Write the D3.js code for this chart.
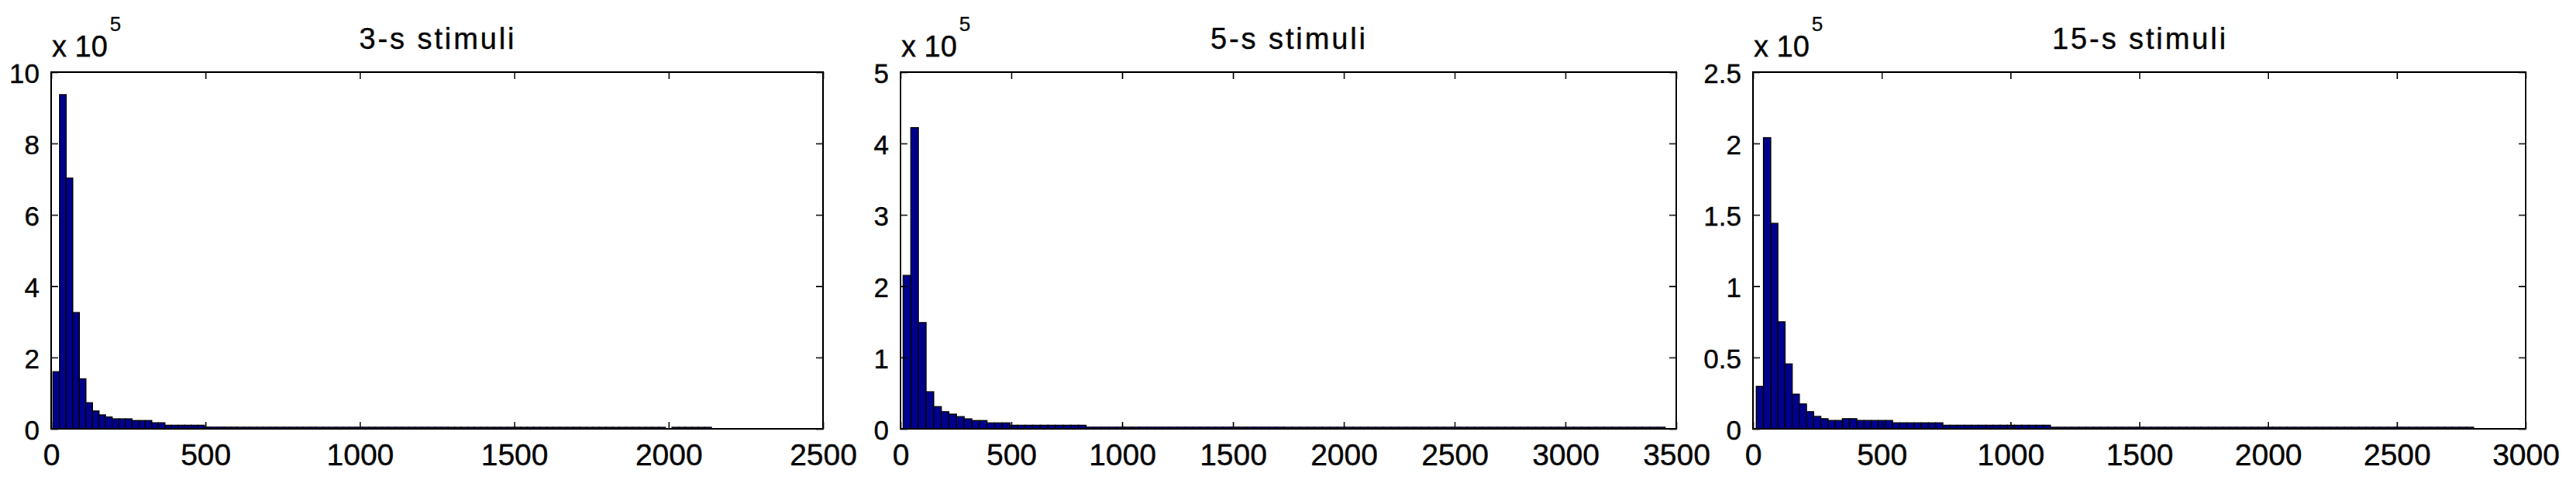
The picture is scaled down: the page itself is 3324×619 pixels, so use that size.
<!DOCTYPE html>
<html><head><meta charset="utf-8">
<script src="https://cdn.jsdelivr.net/npm/d3@7"></script>
<style>
body{margin:0;background:#fff}
svg{display:block;background:#fff}
text{font-family:"Liberation Sans",Arial,Helvetica,sans-serif;fill:#000}
</style>
</head><body>
<svg id="chart" width="3324" height="619"></svg>
<script>
// ---------- data ----------
const titles = ["3-s stimuli", "5-s stimuli", "15-s stimuli"];
const xMax = [2500, 3500, 3000];
const xTicks3s = [0, 500, 1000, 1500, 2000, 2500];
const xTicks5s = [0, 500, 1000, 1500, 2000, 2500, 3000, 3500];
const xTicks15s = [0, 500, 1000, 1500, 2000, 2500, 3000];
const yMax = [1e6, 5e5, 2.5e5];
const yTicks3s = [0, 2e5, 4e5, 6e5, 8e5, 10e5];
const yTicks5s = [0, 1e5, 2e5, 3e5, 4e5, 5e5];
const yTicks15s = [0, 0.5e5, 1e5, 1.5e5, 2e5, 2.5e5];
const yExponent = 5;
const binStart = [5.8, 12, 13];
const binWidth = [21.33, 34.38, 27.85];

const counts3s = [
  160000, 937000, 703000, 326000, 140000, 73000, 50000, 39000, 33000, 28000,
  28000, 28000, 23000, 23000, 23000, 17000, 17000, 10000, 10000, 10000,
  10000, 10000, 10000, 4800, 4700, 4700, 4600, 4600, 4500, 4500,
  4500, 4500, 4500, 4500, 4500, 4500, 4500, 4500, 4500, 4500,
  4400, 4400, 4400, 4400, 4400, 4400, 4400, 4400, 4400, 4400,
  4400, 4400, 4400, 4400, 4400, 4400, 4400, 4400, 4400, 4400,
  4300, 4300, 4300, 4300, 4300, 4300, 4300, 4300, 4300, 4300,
  4300, 4300, 4300, 4300, 4300, 4300, 4300, 4300, 4300, 4300,
  4200, 4200, 4200, 4200, 4200, 4200, 4200, 4200, 4200, 4200,
  4200, 4200, 4200, 0, 4200, 4200, 4200, 4200, 4200, 4200
];
const counts5s = [
  215000, 422000, 149000, 52000, 31000, 24000, 20500, 17000, 14000, 11500,
  11500, 8300, 8300, 8300, 5000, 5000, 5000, 5000, 5000, 5000,
  5000, 5000, 5000, 5000, 2300, 2300, 2300, 2300, 2300, 2300,
  2300, 2300, 2300, 2300, 2300, 2300, 2300, 2300, 2300, 2300,
  2300, 2300, 2300, 2300, 2300, 2300, 2300, 2300, 2300, 2300,
  2200, 2200, 2200, 2200, 2200, 2200, 2200, 2200, 2200, 2200,
  2200, 2200, 2200, 2200, 2200, 2200, 2200, 2200, 2200, 2200,
  2200, 2200, 2200, 2200, 2200, 2200, 2200, 2200, 2200, 2200,
  2200, 2200, 2200, 2200, 2200, 2200, 2200, 2200, 2200, 2200,
  2200, 2200, 2200, 2200, 2200, 2200, 2200, 2200, 2200, 2200
];
const counts15s = [
  29700, 204000, 144000, 75000, 45500, 24300, 17400, 12000, 8700, 7100,
  5800, 5800, 7100, 7100, 5800, 5800, 5800, 5800, 5800, 4200,
  4200, 4200, 4200, 4200, 4200, 4200, 2500, 2500, 2500, 2500,
  2500, 2500, 2500, 2500, 2500, 2500, 2500, 2500, 2500, 2500,
  2500, 1100, 1100, 1100, 1100, 1100, 1100, 1100, 1100, 1100,
  1100, 1100, 1100, 1100, 1100, 1100, 1100, 1100, 1100, 1100,
  1100, 1100, 1100, 1100, 1100, 1100, 1100, 1100, 1100, 1100,
  1100, 1100, 1100, 1100, 1100, 1100, 1100, 1100, 1100, 1100,
  1100, 1100, 1100, 1100, 1100, 1100, 1100, 1100, 1100, 1100,
  1100, 1100, 1100, 1100, 1100, 1100, 1100, 1100, 1100, 1100
];
const allCounts = [counts3s, counts5s, counts15s];
const allXTicks = [xTicks3s, xTicks5s, xTicks15s];
const allYTicks = [yTicks3s, yTicks5s, yTicks15s];

// ---------- layout ----------
const panelLeft = [66, 1162, 2262];
const panelWidth = [996, 1001, 997];
const plotTop = 93, plotBottom = 553;
const barFill = "#00008f";

const svg = d3.select("#chart");
svg.append("rect").attr("width", 3324).attr("height", 619).attr("fill", "#fff");

for (let p = 0; p < 3; p++) {
  const L = panelLeft[p], W = panelWidth[p];
  const x = d3.scaleLinear().domain([0, xMax[p]]).range([L, L + W]);
  const y = d3.scaleLinear().domain([0, yMax[p]]).range([plotBottom, plotTop]);
  const g = svg.append("g");

  const bins = allCounts[p].map((c, i) => ({
    x0: binStart[p] + i * binWidth[p],
    x1: binStart[p] + (i + 1) * binWidth[p],
    c
  }));

  g.append("g").selectAll("rect").data(bins).join("rect")
    .attr("x", d => x(d.x0))
    .attr("width", d => x(d.x1) - x(d.x0))
    .attr("y", d => y(d.c))
    .attr("height", d => y(0) - y(d.c))
    .attr("fill", barFill)
    .attr("stroke", "#000")
    .attr("stroke-width", 1.4);

  const fmtY = v => String(+(v / Math.pow(10, yExponent)).toFixed(1));

  const axB = g.append("g").attr("transform", `translate(0,${plotBottom})`)
    .call(d3.axisBottom(x).tickValues(allXTicks[p]).tickFormat(d3.format("d"))
      .tickSizeInner(-9).tickSizeOuter(0).tickPadding(19));
  axB.selectAll("text").style("font-size", "39px");
  const axT = g.append("g").attr("transform", `translate(0,${plotTop})`)
    .call(d3.axisTop(x).tickValues(allXTicks[p]).tickFormat("")
      .tickSizeInner(-9).tickSizeOuter(0));
  const axL = g.append("g").attr("transform", `translate(${L},0)`)
    .call(d3.axisLeft(y).tickValues(allYTicks[p]).tickFormat(fmtY)
      .tickSizeInner(-9).tickSizeOuter(0).tickPadding(15));
  axL.selectAll("text").style("font-size", "35px").attr("dy", "0.38em");
  const axR = g.append("g").attr("transform", `translate(${L + W},0)`)
    .call(d3.axisRight(y).tickValues(allYTicks[p]).tickFormat("")
      .tickSizeInner(-9).tickSizeOuter(0));

  [axB, axT, axL, axR].forEach(a => {
    a.select(".domain").remove();
    a.selectAll("line").attr("stroke", "#000").attr("stroke-width", 1.6);
    a.selectAll("text").attr("fill", "#000")
      .attr("stroke", "#000").attr("stroke-width", 0.4)
      .style("font-family", '"Liberation Sans",Arial,sans-serif');
  });

  g.append("rect").attr("x", L).attr("y", plotTop).attr("width", W).attr("height", plotBottom - plotTop)
    .attr("fill", "none").attr("stroke", "#000").attr("stroke-width", 2);

  g.append("text").attr("x", L + W / 2 + 1).attr("y", 63)
    .attr("text-anchor", "middle")
    .attr("stroke", "#000").attr("stroke-width", 0.4)
    .style("font-size", "38px").style("letter-spacing", "2.9px")
    .text(titles[p]);

  const ex = g.append("text").attr("x", L + 1).attr("y", 73)
    .attr("stroke", "#000").attr("stroke-width", 0.4)
    .style("font-size", "38px").text("x 10");
  const w = ex.node().getComputedTextLength();
  g.append("text").attr("x", L + 1 + w + 3).attr("y", 40)
    .attr("stroke", "#000").attr("stroke-width", 0.3)
    .style("font-size", "26px").text(String(yExponent));
}
</script>
</body></html>
